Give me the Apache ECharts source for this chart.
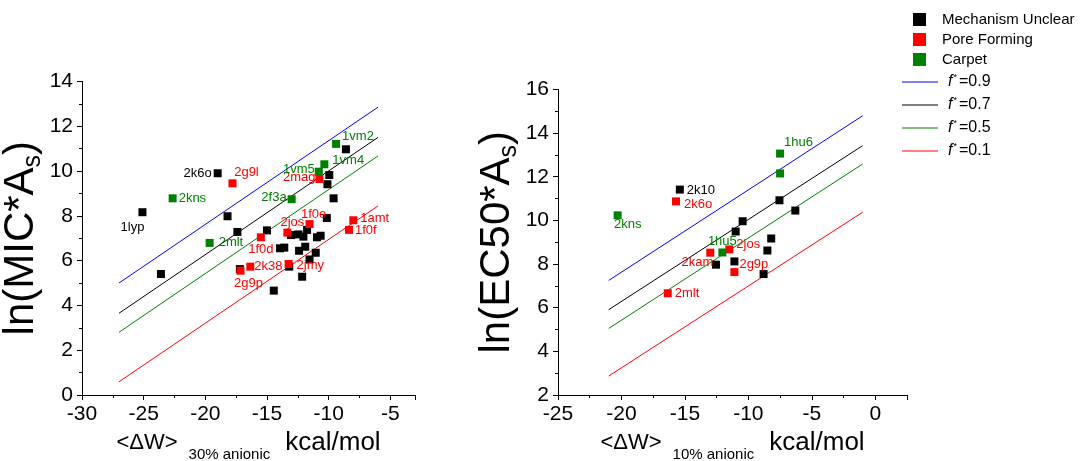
<!DOCTYPE html>
<html><head><meta charset="utf-8">
<script src="https://cdn.jsdelivr.net/npm/echarts@6/dist/echarts.min.js"></script>
<style>html,body{margin:0;padding:0;background:#fff}#c{width:1081px;height:461px}</style>
</head><body><div id="c"></div>
<script>
// ---------- DATA ----------
const seriesNames = ['Mechanism Unclear', 'Pore Forming', 'Carpet'];
const fitNames = ['f*=0.9', 'f*=0.7', 'f*=0.5', 'f*=0.1'];

// Left panel: <ΔW> 30% anionic vs ln(MIC*As)
const leftUnclear = [
  [-25.1, 8.16, '1lyp'], [-19.0, 9.90, '2k6o'], [-18.2, 7.98], [-17.4, 7.28],
  [-15.0, 7.35], [-23.6, 5.40], [-17.2, 5.62], [-14.45, 4.66], [-8.6, 10.97],
  [-9.95, 9.82], [-10.1, 9.41], [-9.6, 8.78], [-10.15, 7.90], [-13.05, 7.14],
  [-12.45, 7.17], [-12.05, 7.07], [-11.75, 7.37], [-10.95, 7.04], [-10.65, 7.11],
  [-13.95, 6.55], [-13.6, 6.58], [-12.4, 6.44], [-11.9, 6.62], [-11.05, 6.35],
  [-11.55, 6.05], [-13.2, 5.73], [-12.15, 5.28]
];
const leftPore = [
  [-17.8, 9.45, '2g9l'], [-15.5, 7.04, '1f0d'], [-16.35, 5.73, '2k38'],
  [-17.15, 5.55, '2g9p'], [-10.75, 9.64, '2mag'], [-8.0, 7.80, '1amt'],
  [-8.35, 7.37, '1f0f'], [-11.55, 7.63, '1f0e'], [-13.35, 7.25, '2jos'],
  [-13.25, 5.85, '2jmy']
];
const leftCarpet = [
  [-22.65, 8.78, '2kns'], [-19.65, 6.79, '2mlt'], [-9.4, 11.21, '1vm2'],
  [-10.35, 10.30, '1vm4'], [-10.8, 9.97, '1vm5'], [-13.0, 8.74, '2f3a']
];
const leftFitX = [-27, -6];
const leftFit09 = [5.0, 12.85];
const leftFit07 = [3.65, 11.5];
const leftFit05 = [2.8, 10.67];
const leftFit01 = [0.59, 8.44];

// Right panel: <ΔW> 10% anionic vs ln(EC50*As)
const rightUnclear = [
  [-15.4, 11.41, '2k10'], [-10.45, 9.96], [-7.55, 10.92], [-6.3, 10.45],
  [-11.0, 9.49], [-8.2, 9.17], [-8.5, 8.62], [-12.55, 7.97], [-11.1, 8.12],
  [-8.8, 7.54]
];
const rightPore = [
  [-15.7, 10.87, '2k6o'], [-13.0, 8.52, '2kam'], [-11.5, 8.67, '2jos'],
  [-11.1, 7.63, '2g9p'], [-16.35, 6.66, '2mlt']
];
const rightCarpet = [
  [-20.3, 10.23, '2kns'], [-12.05, 8.53, '1hu5'], [-7.5, 13.06, '1hu6'], [-7.5, 12.15]
];
const rightFitX = [-21, -1];
const rightFit09 = [7.25, 14.79];
const rightFit07 = [5.91, 13.42];
const rightFit05 = [5.05, 12.58];
const rightFit01 = [2.87, 10.37];

const leftXTicks = {min: -30, max: -3, interval: 5};
const leftYTicks = {min: 0, max: 14, interval: 2};
const rightXTicks = {min: -25, max: 2.5, interval: 5};
const rightYTicks = {min: 2, max: 16, interval: 2};

// ---------- STYLE ----------
const FF = '"Liberation Sans", Arial, Helvetica, sans-serif';
const colors = {'Mechanism Unclear': '#000000', 'Pore Forming': '#ff0000', 'Carpet': '#008000'};
const fitColors = ['#0000ff', '#000000', '#008000', '#ff0000'];

// label placement: [position, distance, offset]
const leftPlace = {
  '1lyp': ['bottom', 5, [-10, 0]], '2k6o': ['left', 2, [0, 0]], '2g9l': ['top', 5, [14, 5]],
  '2kns': ['right', 2, [0, 0]], '2mlt': ['right', 5, [0, 0]], '1f0d': ['bottom', 5, [0, -3]],
  '2k38': ['right', 0, [0, 0]], '2g9p': ['bottom', 5, [8, -3]], '2jmy': ['right', 4, [0, 1]],
  '2jos': ['top', 5, [5, 5]], '1f0e': ['top', 5, [4, 6]], '1amt': ['right', 3, [0, -2]],
  '1f0f': ['right', 2, [0, 1]], '2f3a': ['left', 1, [0, -2]], '2mag': ['left', 0, [0, -2]],
  '1vm5': ['left', 0, [0, -2]], '1vm4': ['right', 4, [0, -4]], '1vm2': ['right', 2, [0, -7]]
};
const rightPlace = {
  '2k10': ['right', 3, [0, 1]], '2k6o': ['right', 4, [0, 3]], '2kns': ['bottom', 5, [10, -6]],
  '1hu5': ['top', 5, [0, 4]], '2jos': ['right', 3, [0, -5]], '2kam': ['left', 5, [12, 10]],
  '2g9p': ['right', 1, [0, -8]], '2mlt': ['right', 3, [0, 0]], '1hu6': ['right', 0, [0, -11]]
};

function scatter(name, pts, idx, place) {
  const color = colors[name];
  return {
    type: 'scatter', name, xAxisIndex: idx, yAxisIndex: idx, symbol: 'rect', symbolSize: 8,
    itemStyle: {color, opacity: 1}, z: 5, silent: true,
    label: {color, fontSize: 13, fontFamily: FF},
    data: pts.map(p => {
      const d = {value: [p[0], p[1]]};
      if (p[2]) {
        const pl = place[p[2]];
        d.label = {show: true, formatter: p[2], position: pl[0], distance: pl[1], offset: pl[2]};
      }
      return d;
    })
  };
}
function fitLine(i, xs, ys, idx) {
  return {
    type: 'line', name: fitNames[i], xAxisIndex: idx, yAxisIndex: idx, symbol: 'none', showSymbol: false,
    z: 2, silent: true,
    lineStyle: {color: fitColors[i], width: 1}, itemStyle: {color: fitColors[i], opacity: 1},
    data: [[xs[0], ys[0]], [xs[1], ys[1]]]
  };
}

const axisCommon = {
  type: 'value',
  axisLine: {show: true, onZero: false, lineStyle: {color: '#000', width: 1}},
  axisTick: {show: true, inside: false, length: 5, lineStyle: {color: '#000'}},
  minorTick: {show: true, splitNumber: 2, length: 3, lineStyle: {color: '#000'}},
  splitLine: {show: false},
  axisLabel: {color: '#000', fontSize: 21, fontFamily: FF, margin: 9, showMaxLabel: false}
};
function xName(sub) {
  return {
    name: '{a|<ΔW>}{sub|' + sub + '}{b|kcal/mol}',
    nameLocation: 'middle', nameGap: 28,
    nameTextStyle: {color: '#000', fontFamily: FF, rich: {
      a: {fontSize: 22, lineHeight: 38, fontFamily: FF, color: '#000', padding: [0, 11, 0, 0]},
      sub: {fontSize: 15, lineHeight: 15, verticalAlign: 'bottom', fontFamily: FF, color: '#000', padding: [0, 15, 0, 0]},
      b: {fontSize: 26, lineHeight: 38, fontFamily: FF, color: '#000'}
    }}
  };
}
function yName(main, gap) {
  return {
    name: '{m|' + main + '}{s|s}{m|)}',
    nameLocation: 'middle', nameGap: gap,
    nameTextStyle: {color: '#000', fontFamily: FF, rich: {
      m: {fontSize: 42, lineHeight: 48, fontFamily: FF, color: '#000'},
      s: {fontSize: 25, lineHeight: 24, verticalAlign: 'bottom', fontFamily: FF, color: '#000'}
    }}
  };
}

const option = {
  animation: false,
  backgroundColor: '#fff',
  textStyle: {fontFamily: FF},
  grid: [
    {left: 82, right: 666, top: 81.4, bottom: 66, outerBoundsMode: 'none', containLabel: false},
    {left: 558, right: 174, top: 89.4, bottom: 66, outerBoundsMode: 'none', containLabel: false}
  ],
  xAxis: [
    Object.assign({}, axisCommon, leftXTicks, {gridIndex: 0}, xName('30% anionic')),
    Object.assign({}, axisCommon, rightXTicks, {gridIndex: 1}, xName('10% anionic'))
  ],
  yAxis: [
    Object.assign({}, axisCommon, leftYTicks, {gridIndex: 0, axisLabel: Object.assign({}, axisCommon.axisLabel, {showMaxLabel: true})}, yName('ln(MIC*A', 31)),
    Object.assign({}, axisCommon, rightYTicks, {gridIndex: 1, axisLabel: Object.assign({}, axisCommon.axisLabel, {showMaxLabel: true})}, yName('ln(EC50*A', 26))
  ],
  legend: [
    {
      data: seriesNames, orient: 'vertical', left: 913, top: 12, padding: 0, icon: 'rect',
      itemWidth: 13, itemHeight: 13, itemGap: 5, selectedMode: false,
      itemStyle: {opacity: 1},
      textStyle: {fontSize: 15, lineHeight: 15, color: '#000', fontFamily: FF, padding: [0, 0, 0, 11]}
    },
    {
      data: fitNames, orient: 'vertical', left: 902, top: 73, padding: 0, icon: 'rect',
      itemWidth: 36, itemHeight: 1, itemGap: 6, selectedMode: false,
      formatter: n => '{f|f}{s|*}{t|=' + n.split('=')[1] + '}',
      textStyle: {color: '#000', fontFamily: FF, rich: {
        f: {fontSize: 16, lineHeight: 18, fontStyle: 'italic', fontFamily: FF, color: '#000', padding: [0, 1, 0, 5]},
        s: {fontSize: 9, lineHeight: 9, verticalAlign: 'top', fontFamily: FF, color: '#000', padding: [0, 2, 0, 0]},
        t: {fontSize: 16, lineHeight: 18, fontFamily: FF, color: '#000'}
      }}
    }
  ],
  series: [
    fitLine(0, leftFitX, leftFit09, 0), fitLine(1, leftFitX, leftFit07, 0),
    fitLine(2, leftFitX, leftFit05, 0), fitLine(3, leftFitX, leftFit01, 0),
    fitLine(0, rightFitX, rightFit09, 1), fitLine(1, rightFitX, rightFit07, 1),
    fitLine(2, rightFitX, rightFit05, 1), fitLine(3, rightFitX, rightFit01, 1),
    scatter('Mechanism Unclear', leftUnclear, 0, leftPlace),
    scatter('Pore Forming', leftPore, 0, leftPlace),
    scatter('Carpet', leftCarpet, 0, leftPlace),
    scatter('Mechanism Unclear', rightUnclear, 1, rightPlace),
    scatter('Pore Forming', rightPore, 1, rightPlace),
    scatter('Carpet', rightCarpet, 1, rightPlace)
  ]
};
const chart = echarts.init(document.getElementById('c'), null, {renderer: 'canvas'});
chart.setOption(option);
</script>
</body></html>
